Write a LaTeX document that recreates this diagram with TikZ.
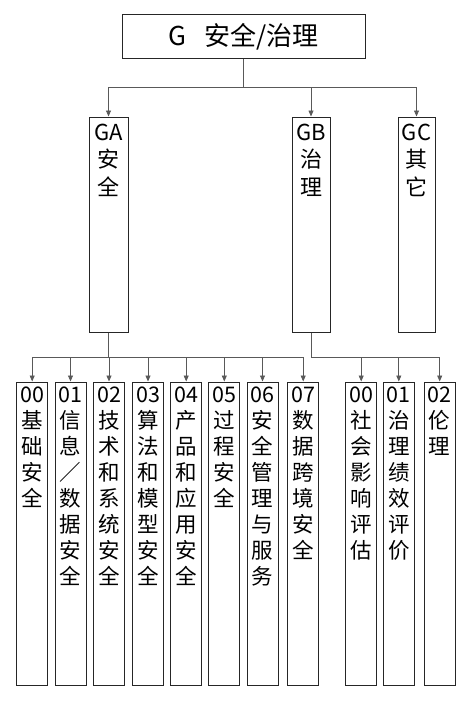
\documentclass[tikz,border=0pt]{standalone}
\usepackage{fontspec}
\setmainfont{Noto Sans CJK SC}
\usetikzlibrary{arrows.meta}
\tikzset{
  box/.style={draw=black!85, line width=1pt, inner sep=0pt},
  topbox/.style={box, minimum width=243pt, minimum height=44pt, font=\fontsize{26}{30}\selectfont},
  midbox/.style={box, minimum height=215pt},
  leafbox/.style={box, minimum width=31pt, minimum height=303pt},
  midtxt/.style={anchor=north, align=center, inner sep=0pt, font=\fontsize{22}{27.5}\selectfont},
  leaftxt/.style={anchor=north, align=center, inner sep=0pt, font=\fontsize{21.5}{26}\selectfont},
  conn/.style={draw=black!65, line width=0.8pt},
  arr/.style={conn, -{Triangle[length=6pt,width=5pt]}}
}
\begin{document}
\begin{tikzpicture}[x=1pt,y=-1pt]
\useasboundingbox (0,0) rectangle (472,701);
% top
\node[topbox] (g) at (243.5,37) {G\hspace{0.7em}安全/治理};
% level 2
\node[midbox, minimum width=39pt] (ga) at (108.5,224.5) {};
\node[midbox, minimum width=38pt] (gb) at (311,224.5) {};
\node[midbox, minimum width=37pt] (gc) at (416.5,224.5) {};
\node[midtxt] (gat) at (108.5,123.5) {GA\\安\\全};
\node[midtxt] (gbt) at (311,123.5) {GB\\治\\理};
\node[midtxt] (gct) at (416.5,123.5) {GC\\其\\它};
% level 3 under GA
\node[leafbox] (a0) at (32.2,533.5) {};
\node[leafbox] (a1) at (70.5,533.5) {};
\node[leafbox] (a2) at (109,533.5) {};
\node[leafbox] (a3) at (148,533.5) {};
\node[leafbox] (a4) at (186.2,533.5) {};
\node[leafbox] (a5) at (224.3,533.5) {};
\node[leafbox] (a6) at (262.5,533.5) {};
\node[leafbox] (a7) at (303.2,533.5) {};
\node[leaftxt] (a0t) at (32.2,386.5) {00\\基\\础\\安\\全};
\node[leaftxt] (a1t) at (70.5,386.5) {01\\信\\息\\／\\数\\据\\安\\全};
\node[leaftxt] (a2t) at (109,386.5) {02\\技\\术\\和\\系\\统\\安\\全};
\node[leaftxt] (a3t) at (148,386.5) {03\\算\\法\\和\\模\\型\\安\\全};
\node[leaftxt] (a4t) at (186.2,386.5) {04\\产\\品\\和\\应\\用\\安\\全};
\node[leaftxt] (a5t) at (224.3,386.5) {05\\过\\程\\安\\全};
\node[leaftxt] (a6t) at (262.5,386.5) {06\\安\\全\\管\\理\\与\\服\\务};
\node[leaftxt] (a7t) at (303.2,386.5) {07\\数\\据\\跨\\境\\安\\全};
% level 3 under GB
\node[leafbox] (b0) at (361.2,533.5) {};
\node[leafbox] (b1) at (398.8,533.5) {};
\node[leafbox] (b2) at (439.7,533.5) {};
\node[leaftxt] (b0t) at (361.2,386.5) {00\\社\\会\\影\\响\\评\\估};
\node[leaftxt] (b1t) at (398.8,386.5) {01\\治\\理\\绩\\效\\评\\价};
\node[leaftxt] (b2t) at (439.7,386.5) {02\\伦\\理};
% connectors top
\draw[conn] (g.south) -- ++(0,28) coordinate (gbus);
\foreach \n in {ga,gb,gc} \draw[arr] (gbus) -| (\n.north);
% connectors GA
\draw[conn] (ga.south) -- ++(0,25) coordinate (abus);
\foreach \n in {a0,a1,a2,a3,a4,a5,a6,a7} \draw[arr] (abus) -| (\n.north);
% connectors GB
\draw[conn] (gb.south) -- ++(0,25) coordinate (bbus);
\foreach \n in {b0,b1,b2} \draw[arr] (bbus) -| (\n.north);
\end{tikzpicture}
\end{document}
